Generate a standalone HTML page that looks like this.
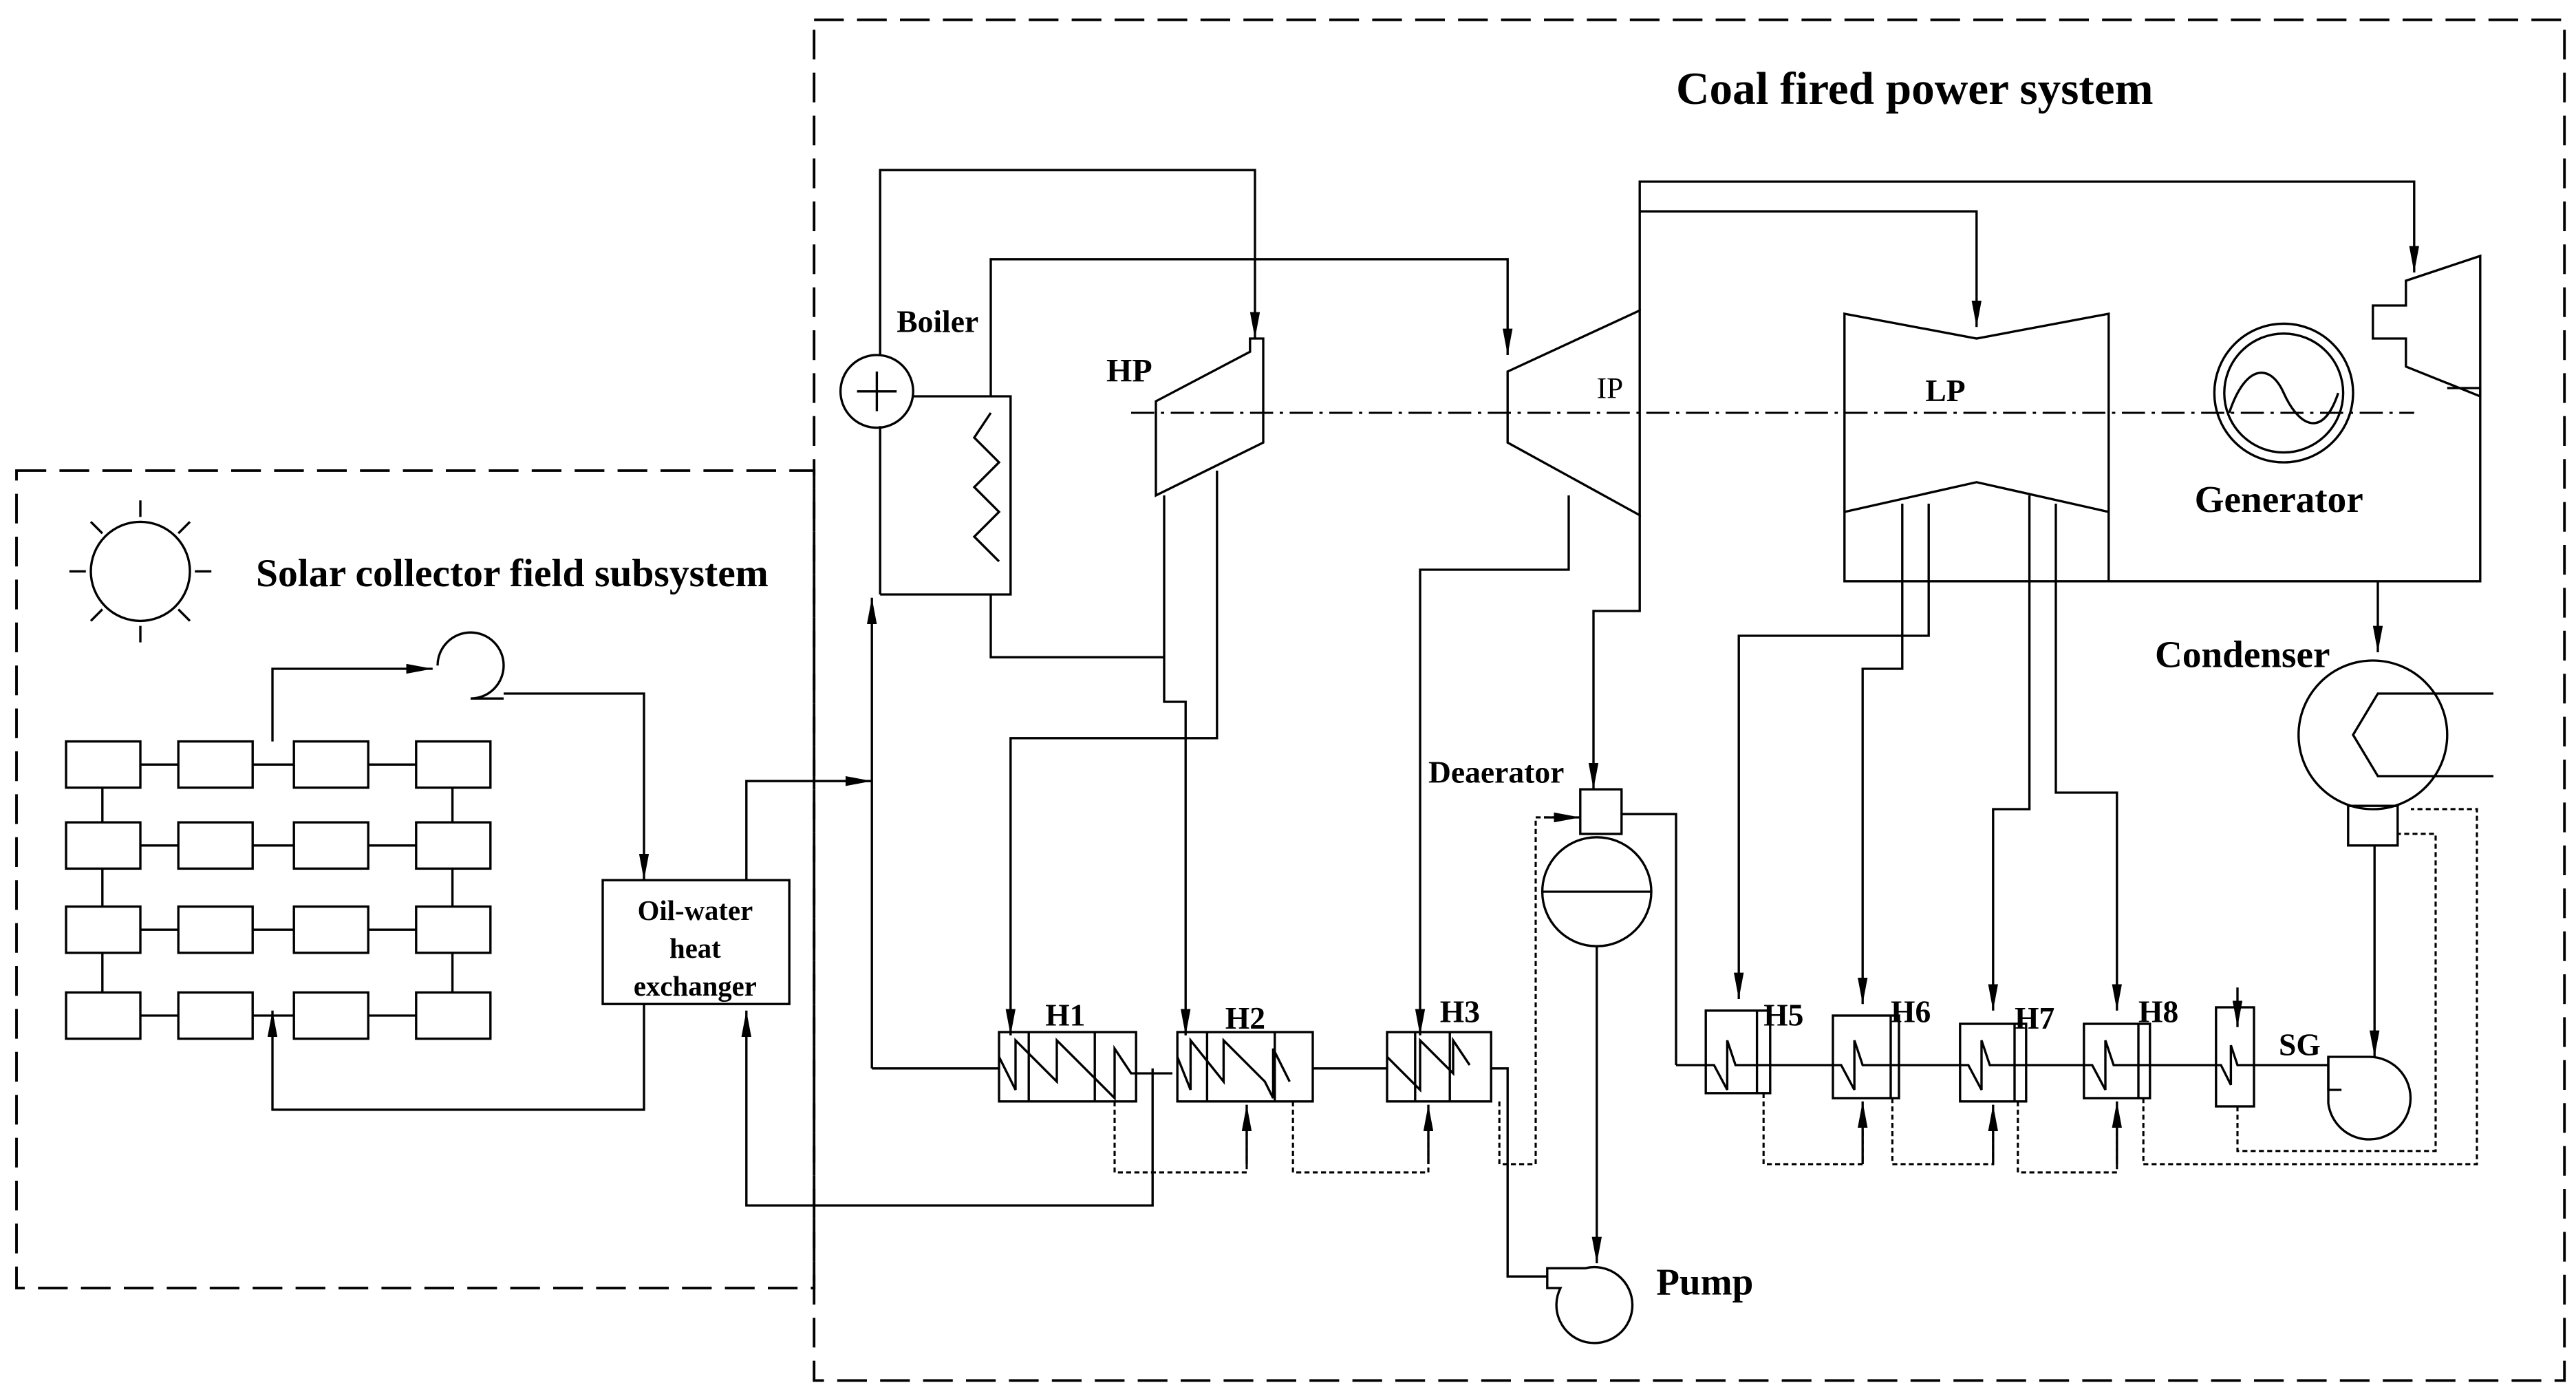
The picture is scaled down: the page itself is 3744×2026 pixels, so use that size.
<!DOCTYPE html>
<html><head><meta charset="utf-8"><style>html,body{margin:0;padding:0;background:#fff}svg{display:block}</style></head><body>
<svg width="3744" height="2026" viewBox="0 0 1560 844.17" xmlns="http://www.w3.org/2000/svg" font-family="Liberation Serif, serif">
<defs>
<marker id="r" markerWidth="16" markerHeight="6" refX="16" refY="3" orient="auto" markerUnits="userSpaceOnUse" viewBox="0 0 16 6"><path d="M0,0 L16,3 L0,6z" fill="#000"/></marker></defs>
<g fill="none" stroke="#000" stroke-width="1.4">
<rect x="10" y="285" width="483" height="495" stroke-dasharray="18,8" stroke-width="1.6"/>
<rect x="493" y="12" width="1060" height="824" stroke-dasharray="18,8" stroke-width="1.6"/>
<circle cx="85" cy="346" r="30"/>
<path d="M85,303v10M85,379v10M42,346h10M118,346h10M55,316l7,7M108,369l7,7M115,316l-7,7M62,369l-7,7"/>
<g id="row">
<rect x="40" y="449" width="45" height="28"/><rect x="108" y="449" width="45" height="28"/><rect x="178" y="449" width="45" height="28"/><rect x="252" y="449" width="45" height="28"/>
<path d="M85,463h23M153,463h25M223,463h29"/></g>
<use href="#row" y="49"/><use href="#row" y="100"/><use href="#row" y="152"/>
<path d="M62,477v21M62,526v23M62,577v24M274,477v21M274,526v23M274,577v24"/>
<path d="M165,449V405H262" marker-end="url(#r)"/>
<path d="M265,403a20,20 0 1 1 20,20h20"/>
<path d="M305,420H390V533" marker-end="url(#r)"/>
<rect x="365" y="533" width="113" height="75"/>
<path d="M390,608V672H165V612" marker-end="url(#r)"/>
<path d="M452,533V473H528" marker-end="url(#r)"/>
<path d="M528,647V362" marker-end="url(#r)"/>
<path d="M528,647H605"/>
<path d="M533,360V258M533,215V103H760V205" marker-end="url(#r)"/>
<path d="M533,360H612V240H553M600,240V157H913V215" marker-end="url(#r)"/>
<circle cx="531" cy="237" r="22"/><path d="M519,237h24M531,225v24"/>
<path d="M600,250l-10,15 15,15-15,15 15,15-15,15 15,15"/>
<path d="M600,360V398H705"/>
<path d="M700,243L757,213V205H765V268L700,300Z"/>
<path d="M705,300V425H718V627" marker-end="url(#r)"/>
<path d="M737,285V447H612V627" marker-end="url(#r)"/>
<path d="M913,225L993,188V312L913,268Z"/>
<path d="M950,300V345H860V627" marker-end="url(#r)"/>
<path d="M993,312V370H965V478" marker-end="url(#r)"/>
<path d="M993,188V110H1462V165" marker-end="url(#r)"/>
<path d="M993,128H1197V198" marker-end="url(#r)"/>
<path d="M1117,190L1197,205L1277,190V352H1117Z M1117,310L1197,292L1277,310"/>
<path d="M1168,305V385H1053V605" marker-end="url(#r)"/>
<path d="M1152,305V405H1128V608" marker-end="url(#r)"/>
<path d="M1229,300V490H1207V612" marker-end="url(#r)"/>
<path d="M1245,305V480H1282V612" marker-end="url(#r)"/>
<path d="M1277,352H1502V235H1482"/>
<path d="M1457,170L1502,155V240L1457,222V205H1437V185H1457Z"/>
<path d="M1440,352V395" marker-end="url(#r)"/>
<path d="M685,250H1462" stroke-dasharray="14,4,2,4" stroke-width="1.2"/>
<circle cx="1383" cy="238" r="42"/><circle cx="1383" cy="238" r="36"/>
<path d="M1350,250c10,-30 25,-30 33,-12s23,30 33,0"/>
<circle cx="1437" cy="445" r="45"/>
<path d="M1470,420h-30l-15,25 15,25h30M1470,420h40M1470,470h40"/>
<rect x="1422" y="488" width="30" height="24"/>
<path d="M1438,512V640" marker-end="url(#r)"/>
<path d="M1410,640h25a25,25 0 1 1 -10,48a25,25 0 0 1 -15,-20z"/>
<path d="M1410,640v20h8"/>
<rect x="1342" y="610" width="23" height="60"/>
<path d="M1355,598V622" marker-end="url(#r)"/>
<rect x="957" y="478" width="25" height="27"/>
<circle cx="967" cy="540" r="33"/><path d="M934,540h66"/>
<path d="M982,493H1015V645"/>
<path d="M967,573V765" marker-end="url(#r)"/>
<path d="M937,768h23a23,23 0 1 1 -15,12h-8z"/>
<path d="M903,647H913V773H937"/>
<rect x="1033" y="612" width="39" height="50"/><path d="M1064,612v50"/>
<rect x="1110" y="615" width="40" height="50"/><path d="M1145,615v50"/>
<rect x="1187" y="620" width="40" height="47"/><path d="M1220,620v47"/>
<rect x="1262" y="620" width="40" height="45"/><path d="M1295,620v45"/>
<path d="M1015,645H1038l8,15v-30l5,15H1115l8,15v-30l5,15H1192l8,15v-30l5,15H1267l8,15v-30l5,15H1345l6,12v-24l4,12H1410"/>
<rect x="605" y="625" width="83" height="42"/><path d="M623,625v42M663,625v42"/>
<rect x="713" y="625" width="82" height="42"/><path d="M731,625v42M772,625v42"/>
<rect x="840" y="625" width="63" height="42"/><path d="M857,625v42M878,625v42"/>
<path d="M605,640l10,20v-30l25,25v-25l25,25 10,10v-30 l10,15h25M713,640l8,20v-30l20,25v-25l25,25 5,10v-30l10,20M795,647H840M840,640l20,20v-30l20,20v-20l10,15"/>
<path d="M698,647V730H452V612" marker-end="url(#r)"/>
</g>
<g fill="none" stroke="#000" stroke-width="1.3" stroke-dasharray="3,2">
<path d="M675,667V710H755V680"/><path d="M783,667V710H865V680"/><path d="M908,667V705H930V495H955"/>
<path d="M1068,662V705H1128V680"/><path d="M1146,665V705H1207V680"/><path d="M1222,667V710H1282V680"/><path d="M1298,665V705H1500V490H1460"/>
<path d="M1355,670V697H1475V505H1452"/>
</g>
<g stroke="#000" stroke-width="1.4" fill="none">
<path d="M755,705V669" marker-end="url(#r)"/><path d="M865,705V669" marker-end="url(#r)"/>
<path d="M1128,705V667" marker-end="url(#r)"/><path d="M1207,705V669" marker-end="url(#r)"/><path d="M1282,705V667" marker-end="url(#r)"/>
<path d="M935,495H957" marker-end="url(#r)"/>
</g>
<g font-weight="bold" fill="#000">
<text x="1015" y="63" font-size="28">Coal fired power system</text>
<text x="155" y="355" font-size="24">Solar collector field subsystem</text>
<text x="543" y="201" font-size="19">Boiler</text>
<text x="670" y="231" font-size="20">HP</text>
<text x="1166" y="243" font-size="19">LP</text>
<text x="1329" y="310" font-size="23">Generator</text>
<text x="1305" y="404" font-size="23">Condenser</text>
<text x="865" y="474" font-size="19">Deaerator</text>
<text x="1003" y="784" font-size="23">Pump</text>
<text x="633" y="621" font-size="19">H1</text><text x="742" y="623" font-size="19">H2</text><text x="872" y="619" font-size="19">H3</text>
<text x="1068" y="621" font-size="19">H5</text><text x="1145" y="619" font-size="19">H6</text><text x="1220" y="623" font-size="19">H7</text><text x="1295" y="619" font-size="19">H8</text>
<text x="1380" y="639" font-size="19">SG</text>
<text x="421" y="557" font-size="17" text-anchor="middle">Oil-water</text>
<text x="421" y="580" font-size="17" text-anchor="middle">heat</text>
<text x="421" y="603" font-size="17" text-anchor="middle">exchanger</text>
</g>
<text x="967" y="241" font-size="18" fill="#000">IP</text>
</svg>
</body></html>
